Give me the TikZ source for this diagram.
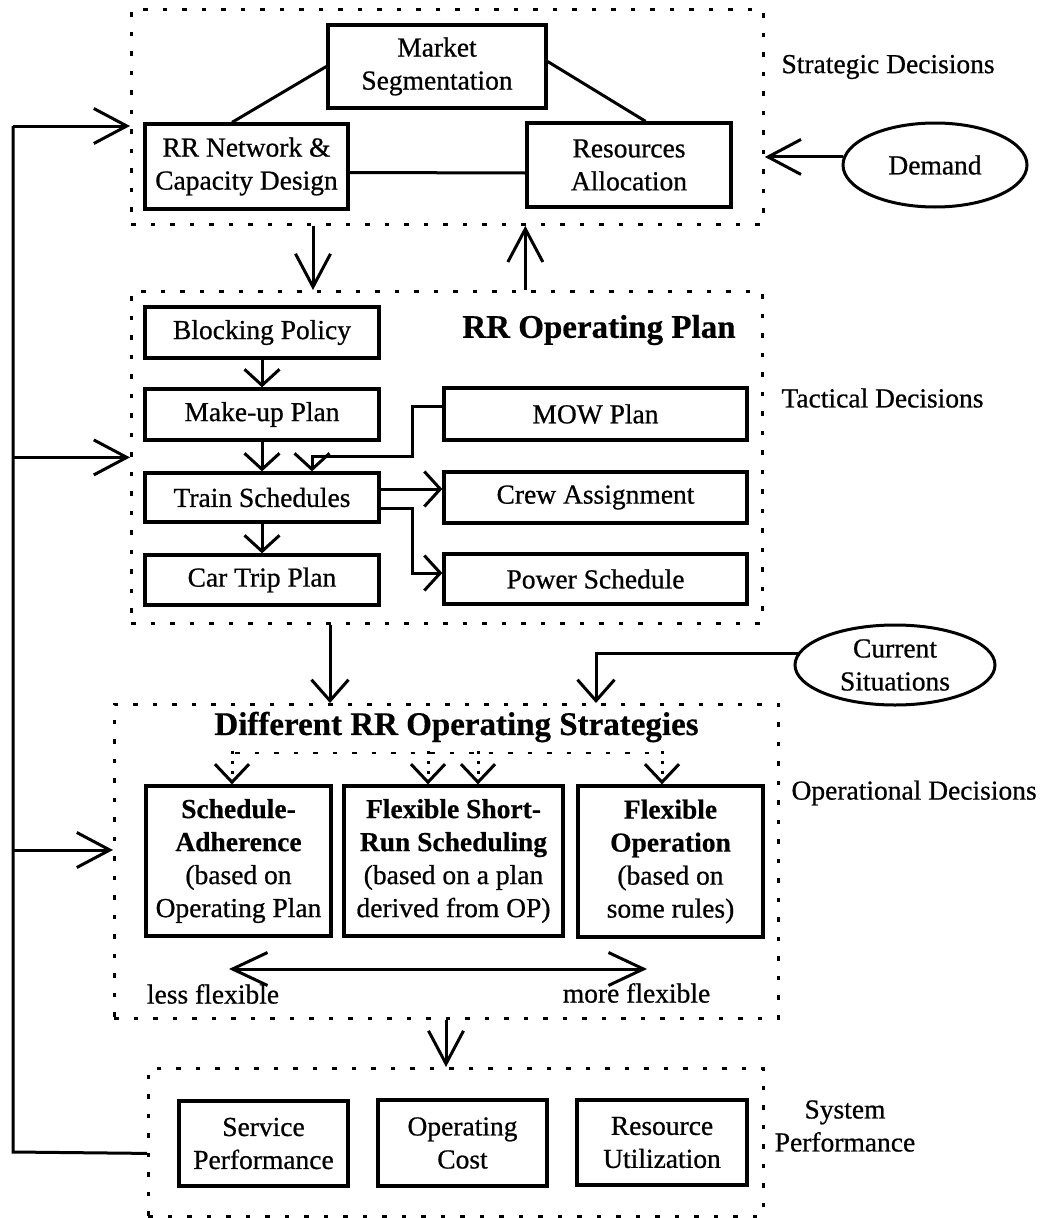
\documentclass[tikz,border=0pt]{standalone}
\usepackage{fontspec}
\setmainfont{Liberation Serif}[UprightFeatures={FakeBold=0.7},BoldFeatures={FakeBold=0.5}]
\usetikzlibrary{arrows.meta,calc,shapes.geometric}
\begin{document}
\begin{tikzpicture}[x=1pt,y=-1pt,
  txt/.style={font=\fontsize{27.5}{33}\selectfont},
  ttl/.style={font=\fontsize{33}{38}\selectfont\bfseries},
  box/.style={draw,line width=3.3pt,inner sep=0pt,align=center,txt},
  frame/.style={draw,line width=2.8pt,dash pattern=on 4.5pt off 15pt,inner sep=0pt,anchor=north west},
  dashline/.style={line width=2.8pt,dash pattern=on 4.5pt off 15pt},
  oval/.style={draw,ellipse,line width=3pt,inner sep=0pt,align=center,txt},
  link/.style={line width=3pt},
  bigarrow/.style={link,-{Straight Barb[length=33pt,width=35pt]}},
  botharrow/.style={link,{Straight Barb[length=35pt,width=33pt]}-{Straight Barb[length=35pt,width=33pt]}},
  midarrow/.style={link,-{Straight Barb[length=21pt,width=37pt]}},
  smallarrow/.style={link,-{Straight Barb[length=16pt,width=35pt]}},
  dotarrow/.style={link,dash pattern=on 3pt off 7pt,-{Straight Barb[length=18pt,width=34pt]}}
]
\useasboundingbox (0,0) rectangle (1047,1218);

% ---------- strategic level ----------
\node[frame,minimum width=632pt,minimum height=215pt] (strat) at (130,8) {};
\node[box,minimum width=218pt,minimum height=83pt] (mkt) at (437,66.5) {Market\\Segmentation};
\node[box,minimum width=203pt,minimum height=85pt] (net) at (246.5,166.5) {RR Network \&\\Capacity Design};
\node[box,minimum width=204pt,minimum height=84pt] (res) at (629,165) {Resources\\Allocation};
\node[oval,minimum width=184pt,minimum height=84pt] (dem) at (935,165) {Demand};
\node[txt,anchor=west] (sdl) at (778,67) {Strategic Decisions};

\draw[link] (mkt.west) -- ($(net.north west)!0.43!(net.north east)$);
\draw[link] ($(mkt.east)+(0,-5)$) -- ($(res.north west)!0.58!(res.north east)$);
\draw[link] ($(net.east)+(0,6)$) -- ($(res.west)+(0,8)$);
\draw[bigarrow] (dem.175) -- (dem.175 -| strat.east);

% ---------- tactical level ----------
\node[frame,minimum width=631pt,minimum height=332pt] (tact) at (130,290) {};
\node[ttl] (rop) at (599,330) {RR Operating Plan};
\node[box,minimum width=234pt,minimum height=51pt] (blk) at (262,332.5) {Blocking Policy};
\node[box,minimum width=234pt,minimum height=51pt] (mku) at (262,414.5) {Make-up Plan};
\node[box,minimum width=234pt,minimum height=49pt] (trn) at (262,497.5) {Train Schedules};
\node[box,minimum width=234pt,minimum height=50pt] (car) at (262,580) {Car Trip Plan};
\node[box,minimum width=303pt,minimum height=52pt] (mow) at (595.5,414) {MOW Plan};
\node[box,minimum width=303pt,minimum height=51pt] (crw) at (595.5,497.5) {Crew Assignment};
\node[box,minimum width=303pt,minimum height=50pt] (pwr) at (595.5,579) {Power Schedule};
\node[txt,anchor=west] (tdl) at (778,398) {Tactical Decisions};

\coordinate (mj) at (412,456);
\coordinate (pj) at (412,573);
\draw[smallarrow] (blk.south) -- (mku.north);
\draw[smallarrow] (mku.south) -- (trn.north);
\draw[smallarrow] ($(mow.west)+(0,-8)$) -| (mj) -| ($(trn.north)+(50,0)$);
\draw[smallarrow] ($(trn.east)+(0,-8.5)$) -- ($(crw.west)+(0,-8.5)$);
\draw[smallarrow] ($(trn.east)+(0,10.5)$) -| (pj) -- (pj -| pwr.west);
\draw[smallarrow] (trn.south) -- (car.north);

\draw[bigarrow] ($(strat.south west)+(183,0)$) -- ($(tact.north west)+(183,0)$);
\draw[bigarrow] (tact.north -| res.west) -- (strat.south -| res.west);

% ---------- operational level ----------
\node[frame,minimum width=664pt,minimum height=314pt] (oper) at (113,703) {};
\node[ttl] (dros) at (456.5,727) {Different RR Operating Strategies};
\coordinate (dl) at (235,753);
\coordinate (dr) at (658,753);
\draw[dashline] (dl) -- (dr);
\node[box,minimum width=185pt,minimum height=150pt] (sa) at (238.5,861)
  {\textbf{Schedule-}\\\textbf{Adherence}\\(based on\\Operating Plan};
\node[box,minimum width=219pt,minimum height=150pt] (fs) at (453.5,861)
  {\textbf{Flexible Short-}\\\textbf{Run Scheduling}\\(based on a plan\\derived from OP)};
\node[box,minimum width=185pt,minimum height=151pt] (fo) at (670.5,861.5)
  {\textbf{Flexible}\\\textbf{Operation}\\(based on\\some rules)};
\node[oval,minimum width=200pt,minimum height=80pt] (cur) at (895,665) {Current\\Situations};
\node[txt,anchor=west] (odl) at (788,793) {Operational Decisions};

\draw[dotarrow] ($(sa.north)+(-6.5,-33)$) -- ($(sa.north)+(-6.5,0)$);
\draw[dotarrow] ($(fs.north)+(-25.5,-33)$) -- ($(fs.north)+(-25.5,0)$);
\draw[dotarrow] ($(fs.north)+(24.5,-33)$) -- ($(fs.north)+(24.5,0)$);
\draw[dotarrow] ($(fo.north)+(-8.5,-33)$) -- ($(fo.north)+(-8.5,0)$);

\coordinate (ci) at (596,703);
\draw[midarrow] (cur.173) -| (ci);
\draw[midarrow] ($(tact.south west)+(200,0)$) -- ($(oper.north west)+(217,0)$);

\coordinate (fl) at (229,969);
\coordinate (fr) at (647,969);
\draw[botharrow] (fl) -- (fr);
\node[txt] (lf) at (213,994) {less flexible};
\node[txt] (mf) at (636.5,993) {more flexible};

% ---------- system performance ----------
\node[frame,minimum width=615pt,minimum height=148pt] (sys) at (147,1067) {};
\node[box,minimum width=169pt,minimum height=85pt] (sp) at (263.5,1143.5) {Service\\Performance};
\node[box,minimum width=169pt,minimum height=86pt] (oc) at (462.5,1143) {Operating\\Cost};
\node[box,minimum width=170pt,minimum height=85pt] (ru) at (662,1142.5) {Resource\\Utilization};
\node[txt,align=center] (spl) at (845,1126) {System\\Performance};

\draw[bigarrow] ($(oper.south west)+(333,0)$) -- ($(sys.north west)+(299,0)$);

% ---------- feedback loop ----------
\coordinate (fbb) at (13,1152);
\coordinate (fbt) at (13,126);
\coordinate (fbo) at (13,850);
\draw[link] ($(sys.west)+(0,11)$) -- (fbb) -- (fbt);
\draw[bigarrow] (fbt) -- (fbt -| strat.west);
\draw[bigarrow] (tact.west -| fbt) -- (tact.west);
\draw[bigarrow] (fbo) -- (fbo -| oper.west);
\end{tikzpicture}
\end{document}
